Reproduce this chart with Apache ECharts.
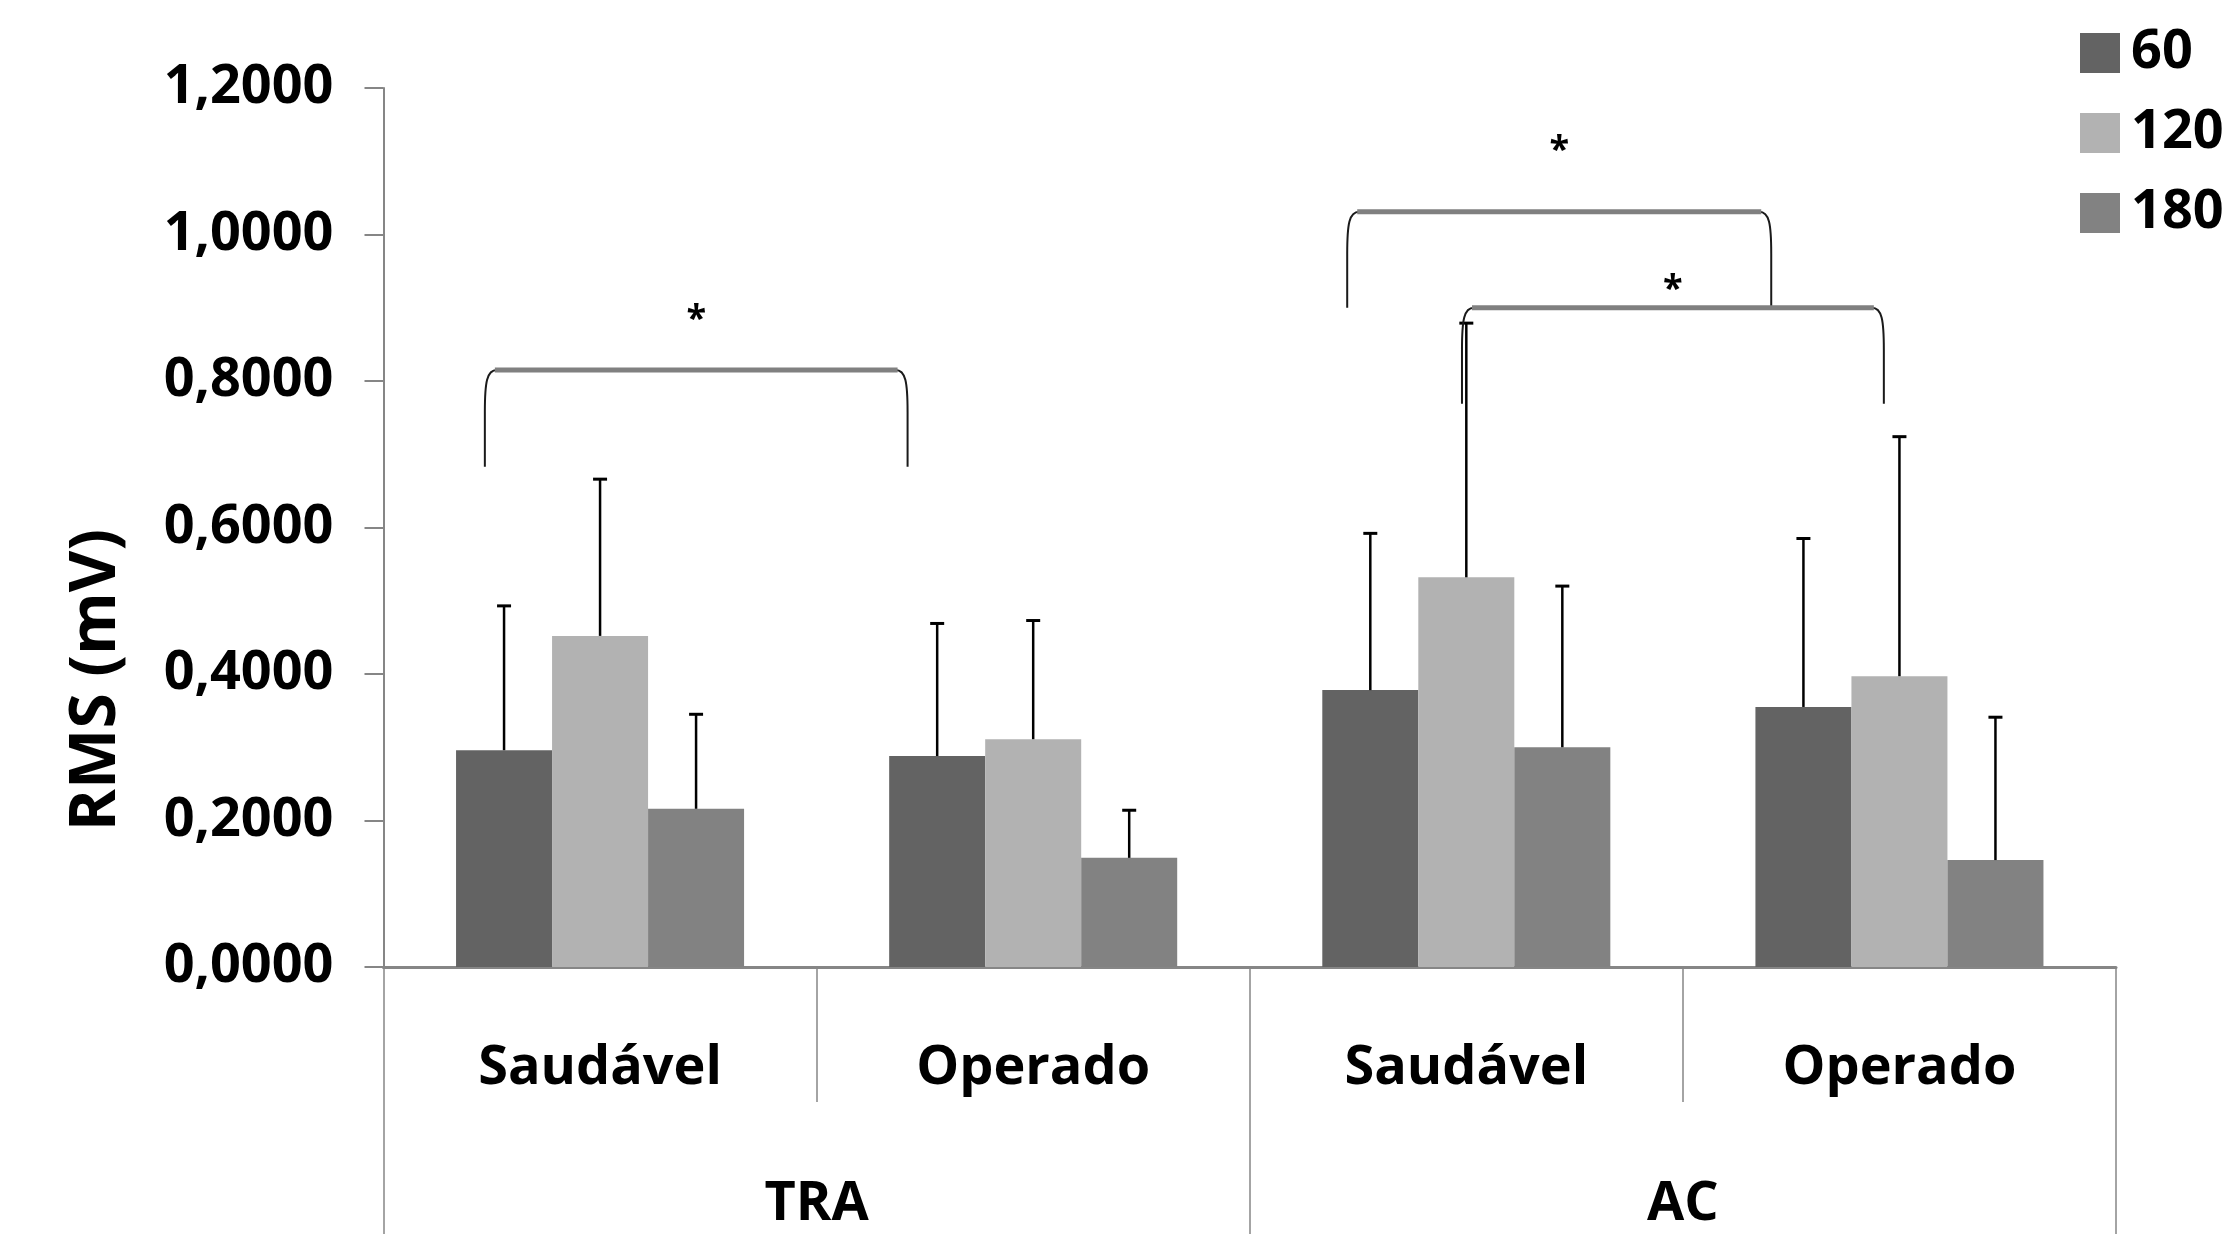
<!DOCTYPE html>
<html>
<head>
<meta charset="utf-8">
<script src="https://cdn.jsdelivr.net/npm/echarts@6/dist/echarts.min.js"></script>
<style>
  html, body { margin: 0; padding: 0; background: #ffffff; }
  #chart { width: 2227px; height: 1234px; }
</style>
</head>
<body>
<div id="chart"></div>
<script>
// ---- data ----
const categories = ['Saudável', 'Operado', 'Saudável', 'Operado'];
const groups = ['TRA', 'AC'];
const seriesNames = ['60', '120', '180'];
const mean60 = [0.296, 0.288, 0.378, 0.355];
const mean120 = [0.452, 0.311, 0.532, 0.397];
const mean180 = [0.216, 0.149, 0.300, 0.146];
const sd60 = [0.197, 0.181, 0.214, 0.230];
const sd120 = [0.214, 0.162, 0.347, 0.327];
const sd180 = [0.129, 0.065, 0.220, 0.195];
const yMin = 0, yMax = 1.2, yStep = 0.2;
// significance brackets: compared categories, bracket top / foot values, star value
const bracketFrom = [0, 2, 2];
const bracketTo = [1, 3, 3];
const bracketTop = [0.815, 1.031, 0.900];
const bracketFoot = [0.683, 0.900, 0.769];
const starValue = [0.883, 1.115, 0.925];
const starText = ['*', '*', '*'];

// ---- style ----
const colors = ['#636363', '#b2b2b2', '#828282'];
const FONT = '"Open Sans", "Noto Sans", sans-serif';
const axisGray = '#868686';
const catGapPct = 0.335;
// horizontal anchor of each bracket end, as fraction of category width from its centre
const bracketFromOff = [-0.266, -0.275, -0.010];
const bracketToOff = [-0.290, -0.296, -0.036];

const means = [mean60, mean120, mean180];
const sds = [sd60, sd120, sd180];

const errData = [];
for (let s = 0; s < 3; s++) {
  for (let i = 0; i < categories.length; i++) {
    errData.push([i, means[s][i], sds[s][i], s]);
  }
}
const bracketData = bracketTop.map((t, i) => [bracketFrom[i], t, i]);

const chart = echarts.init(document.getElementById('chart'), null, { renderer: 'canvas' });

const barSeries = seriesNames.map((name, s) => ({
  name: name,
  type: 'bar',
  xAxisIndex: 0,
  yAxisIndex: 0,
  data: means[s],
  barGap: '0%',
  barCategoryGap: (catGapPct * 100) + '%',
  itemStyle: { color: colors[s] },
  z: 2
}));

const option = {
  animation: false,
  backgroundColor: '#ffffff',
  grid: { left: 383.5, right: 111, top: 88, bottom: 267, containLabel: false },
  legend: {
    data: seriesNames,
    orient: 'vertical',
    left: 2075,
    top: 21,
    itemWidth: 40,
    itemHeight: 40,
    itemGap: 26,
    icon: 'rect',
    textStyle: { fontFamily: FONT, fontWeight: 'bold', fontSize: 54, color: '#000', padding: [0, 0, 0, 6] }
  },
  xAxis: [
    {
      type: 'category',
      data: categories,
      position: 'bottom',
      axisLine: { show: true, lineStyle: { color: axisGray, width: 3 } },
      axisTick: { show: true, interval: 0, length: 135, lineStyle: { color: axisGray, width: 1.5 } },
      axisLabel: { interval: 0, margin: 75, color: '#000', fontFamily: FONT, fontWeight: 'bold', fontSize: 54 },
      splitLine: { show: false }
    },
    {
      type: 'category',
      data: groups,
      position: 'bottom',
      offset: 0,
      axisLine: { show: false },
      axisTick: { show: true, interval: 0, length: 270, lineStyle: { color: axisGray, width: 1.5 } },
      axisLabel: { interval: 0, margin: 211, color: '#000', fontFamily: FONT, fontWeight: 'bold', fontSize: 54 },
      splitLine: { show: false }
    }
  ],
  yAxis: {
    type: 'value',
    min: yMin,
    max: yMax,
    interval: yStep,
    axisLine: { show: true, lineStyle: { color: axisGray, width: 2 } },
    axisTick: { show: true, length: 19, lineStyle: { color: axisGray, width: 2 } },
    axisLabel: {
      margin: 50,
      color: '#000',
      fontFamily: FONT,
      fontWeight: 'bold',
      fontSize: 54,
      formatter: v => v.toFixed(4).replace('.', ',')
    },
    splitLine: { show: false }
  },
  graphic: [
    {
      type: 'text',
      x: 97,
      y: 680,
      rotation: Math.PI / 2,
      style: {
        text: 'RMS (mV)',
        fontFamily: FONT,
        fontWeight: 'bold',
        fontSize: 64,
        fill: '#000',
        align: 'center',
        verticalAlign: 'middle'
      }
    }
  ],
  series: barSeries.concat([
    {
      name: 'err',
      type: 'custom',
      xAxisIndex: 0,
      yAxisIndex: 0,
      data: errData,
      encode: { x: 0, y: 1 },
      z: 3,
      silent: true,
      renderItem: function (params, api) {
        const cat = api.value(0), mean = api.value(1), sd = api.value(2), s = api.value(3);
        const band = api.size([1, 0])[0];
        const barW = band * (1 - catGapPct) / 3;
        const base = api.coord([cat, mean]);
        const top = api.coord([cat, mean + sd]);
        const x = base[0] + (s - 1) * barW;
        return {
          type: 'group',
          children: [
            { type: 'line', shape: { x1: x, y1: base[1], x2: x, y2: top[1] }, style: { stroke: '#000', lineWidth: 2.5 } },
            { type: 'line', shape: { x1: x - 7, y1: top[1], x2: x + 7, y2: top[1] }, style: { stroke: '#000', lineWidth: 3 } }
          ]
        };
      }
    },
    {
      name: 'brackets',
      type: 'custom',
      xAxisIndex: 0,
      yAxisIndex: 0,
      data: bracketData,
      encode: { x: 0, y: 1 },
      z: 4,
      silent: true,
      clip: false,
      renderItem: function (params, api) {
        const i = api.value(2);
        const band = api.size([1, 0])[0];
        const pL = api.coord([bracketFrom[i], bracketTop[i]]);
        const pR = api.coord([bracketTo[i], bracketTop[i]]);
        const pF = api.coord([bracketFrom[i], bracketFoot[i]]);
        const pS = api.coord([bracketFrom[i], starValue[i]]);
        const xL = pL[0] + bracketFromOff[i] * band;
        const xR = pR[0] + bracketToOff[i] * band;
        const yT = pL[1];
        const yF = pF[1];
        const r = 12;
        const leftPath = 'M' + xL + ',' + yF + ' L' + xL + ',' + (yT + 42) +
          ' C' + xL + ',' + (yT + 12) + ' ' + (xL + 2) + ',' + yT + ' ' + (xL + r) + ',' + yT;
        const rightPath = 'M' + xR + ',' + yF + ' L' + xR + ',' + (yT + 42) +
          ' C' + xR + ',' + (yT + 12) + ' ' + (xR - 2) + ',' + yT + ' ' + (xR - r) + ',' + yT;
        return {
          type: 'group',
          children: [
            { type: 'path', shape: { pathData: leftPath }, style: { stroke: '#1a1a1a', lineWidth: 2, fill: null } },
            { type: 'path', shape: { pathData: rightPath }, style: { stroke: '#1a1a1a', lineWidth: 2, fill: null } },
            { type: 'line', shape: { x1: xL + r - 2, y1: yT, x2: xR - r + 2, y2: yT }, style: { stroke: '#808080', lineWidth: 5 } },
            {
              type: 'text',
              x: (xL + xR) / 2,
              y: pS[1],
              style: {
                text: starText[i],
                fontFamily: FONT,
                fontWeight: 'bold',
                fontSize: 36,
                fill: '#000',
                align: 'center',
                verticalAlign: 'middle'
              }
            }
          ]
        };
      }
    }
  ])
};

chart.setOption(option);
</script>
</body>
</html>
